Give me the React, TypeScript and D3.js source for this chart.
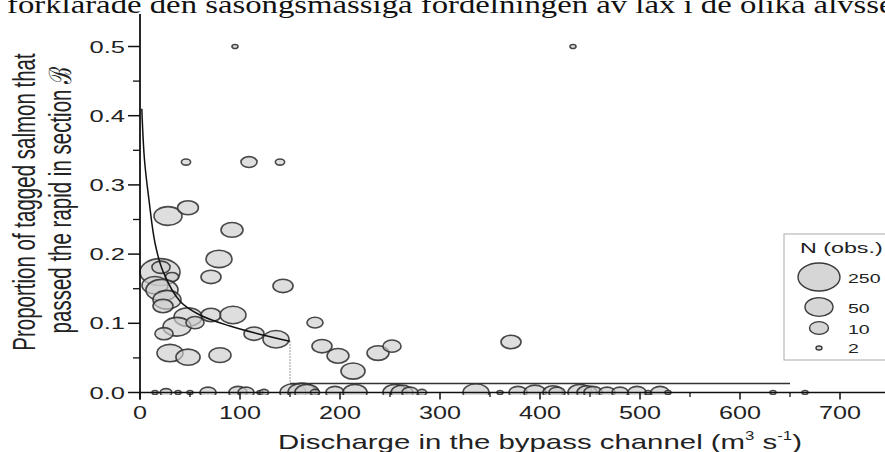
import React from "react";
import * as d3 from "d3";

const W = 885;
const H = 452;

const xTicks = [0, 100, 200, 300, 400, 500, 600, 700];
const xMinorTicks = [50, 150, 250, 350, 450, 550, 650];
const yTicks = [0, 0.1, 0.2, 0.3, 0.4, 0.5];
const yMinorTicks = [0.05, 0.15, 0.25, 0.35, 0.45];
const yTickLabels = ["0.0", "0.1", "0.2", "0.3", "0.4", "0.5"];

// positive proportions: discharge, proportion, N
const posX = [95, 433, 46, 109, 140, 28, 48, 92, 79, 20, 21, 32, 71, 15, 22, 27, 23, 143, 48, 37, 55, 71, 93, 24, 114, 136, 175, 182, 30, 48, 80, 198, 238, 252, 213, 371];
const posY = [0.5, 0.5, 0.333, 0.333, 0.333, 0.255, 0.267, 0.235, 0.193, 0.174, 0.181, 0.167, 0.167, 0.155, 0.148, 0.134, 0.125, 0.154, 0.109, 0.095, 0.101, 0.112, 0.112, 0.085, 0.085, 0.077, 0.101, 0.067, 0.057, 0.051, 0.054, 0.053, 0.057, 0.067, 0.031, 0.073];
const posN = [2, 2, 3, 7, 3, 50, 14, 17, 35, 200, 9, 5, 12, 35, 80, 50, 12, 12, 50, 50, 9, 12, 35, 9, 12, 35, 7, 12, 35, 25, 17, 17, 17, 9, 25, 12];

// zero proportions: discharge, N
const zeroX = [15, 26, 38, 50, 68, 98, 106, 120, 124, 153, 162, 167, 175, 195, 215, 255, 262, 270, 282, 336, 360, 378, 395, 413, 417, 440, 447, 453, 467, 480, 497, 508, 520, 528, 633, 665];
const zeroN = [2, 4, 2, 2, 7, 9, 7, 2, 3, 35, 50, 25, 3, 9, 25, 25, 17, 7, 3, 35, 2, 9, 17, 12, 7, 25, 12, 9, 7, 7, 9, 2, 9, 2, 2, 2];

// fitted curve
const curveX = [1.8, 4.5, 9, 15, 23, 40, 60, 90, 123, 150];
const curveY = [0.41, 0.336, 0.278, 0.216, 0.175, 0.132, 0.112, 0.096, 0.083, 0.074];
const stepX = 150;
const tailX = [150, 650];
const tailY = 0.013;

const legendN = [250, 50, 10, 2];
const legendLabels = ["250", "50", "10", "2"];

const SANS = "'Liberation Sans', Arial, sans-serif";

function SText(props: any) {
  const { x, y, sx = 1, size, anchor = "start", rotate, family = SANS, fill = "#222", children } = props;
  const tr = `translate(${x},${y}) scale(${sx},1)${rotate ? ` rotate(${rotate})` : ""}`;
  return (
    <text transform={tr} fontSize={size} textAnchor={anchor} fontFamily={family} fill={fill}>
      {children}
    </text>
  );
}

export default function App() {
  const x = d3.scaleLinear().domain([0, 745]).range([140, 885]);
  const y = d3.scaleLinear().domain([0, 0.5]).range([392.5, 46.5]);
  const rx = d3.scaleLog().domain([2, 10, 50, 250]).range([3, 9.5, 14, 21]);
  const ASP = 0.67;
  const y0 = y(0);

  const line = d3
    .line<number>()
    .x((_, i) => x(curveX[i]))
    .y((d) => y(d))
    .curve(d3.curveCatmullRom);

  const bubbleFill = "#cdcdcd";
  const bubbleStroke = "#2a2a2a";

  return (
    <svg width={W} height={H} style={{ position: "absolute", left: 0, top: 0, background: "#fff" }}>
      <defs>
        <clipPath id="zeroClip">
          <rect x={0} y={0} width={W} height={y0 + 2.5} />
        </clipPath>
      </defs>

      {/* cropped document text at top */}
      <SText x={7} y={13} sx={1.26} size={26} family="'Liberation Serif', 'Times New Roman', serif" fill="#111">
        förklarade den säsongsmässiga fördelningen av lax i de olika älvssek
      </SText>

      {/* zero bubbles */}
      <g clipPath="url(#zeroClip)">
        {zeroX.map((d, i) => (
          <ellipse
            key={"z" + i}
            cx={x(d)}
            cy={y0}
            rx={rx(zeroN[i])}
            ry={rx(zeroN[i]) * ASP}
            fill={bubbleFill}
            fillOpacity={0.7}
            stroke={bubbleStroke}
            strokeOpacity={0.85}
            strokeWidth={1.6}
          />
        ))}
      </g>

      {/* positive bubbles */}
      {posX.map((d, i) => (
        <ellipse
          key={"p" + i}
          cx={x(d)}
          cy={y(posY[i])}
          rx={rx(posN[i])}
          ry={rx(posN[i]) * ASP}
          fill={bubbleFill}
          fillOpacity={0.65}
          stroke={bubbleStroke}
          strokeOpacity={0.85}
          strokeWidth={1.6}
        />
      ))}

      {/* fitted curve */}
      <path d={line(curveY) || ""} fill="none" stroke="#111" strokeWidth={1.5} />
      <line x1={x(stepX)} x2={x(stepX)} y1={y(curveY[curveY.length - 1])} y2={y(tailY)} stroke="#777" strokeWidth={1} strokeDasharray="1.5,1.5" />
      <line x1={x(tailX[0])} x2={x(tailX[1])} y1={y(tailY)} y2={y(tailY)} stroke="#333" strokeWidth={1.3} />

      {/* axes */}
      <line x1={x(0)} x2={W} y1={y0} y2={y0} stroke="#111" strokeWidth={1.6} />
      <line x1={x(0)} x2={x(0)} y1={14} y2={y0 + 7} stroke="#111" strokeWidth={1.8} />
      {xTicks.map((t) => (
        <g key={"xt" + t}>
          <line x1={x(t)} x2={x(t)} y1={y0} y2={y0 + 7} stroke="#111" strokeWidth={1.5} />
          <SText x={x(t)} y={419} sx={1.4} size={18} anchor="middle">
            {String(t)}
          </SText>
        </g>
      ))}
      {xMinorTicks.map((t) => (
        <line key={"xm" + t} x1={x(t)} x2={x(t)} y1={y0} y2={y0 + 4.5} stroke="#111" strokeWidth={1.3} />
      ))}
      {yTicks.map((t, i) => (
        <g key={"yt" + t}>
          <line x1={128} x2={x(0)} y1={y(t)} y2={y(t)} stroke="#111" strokeWidth={1.5} />
          <SText x={125} y={y(t) + 6} sx={1.5} size={17} anchor="end">
            {yTickLabels[i]}
          </SText>
        </g>
      ))}
      {yMinorTicks.map((t) => (
        <line key={"ym" + t} x1={133} x2={x(0)} y1={y(t)} y2={y(t)} stroke="#111" strokeWidth={1.3} />
      ))}

      {/* axis titles */}
      <SText x={35} y={202} sx={1.5} size={20.5} anchor="middle" rotate={-90}>
        Proportion of tagged salmon that
      </SText>
      <SText x={71} y={200} sx={1.5} size={20.5} anchor="middle" rotate={-90}>
        passed the rapid in section ℬ
      </SText>
      <SText x={540} y={449} sx={1.4} size={21} anchor="middle">
        Discharge in the bypass channel (m<tspan fontSize={12} dy={-9}>3</tspan>
        <tspan dy={9}> s</tspan>
        <tspan fontSize={12} dy={-9}>-1</tspan>
        <tspan dy={9}>)</tspan>
      </SText>

      {/* legend */}
      <rect x={784} y={234} width={W - 784 + 10} height={126} fill="#fff" stroke="#aaa" strokeWidth={1} />
      <SText x={800} y={253} sx={1.5} size={15.5}>
        N (obs.)
      </SText>
      {legendN.map((n, i) => {
        const cys = [277, 307, 328, 348];
        const bys = [283, 313, 334, 353];
        return (
          <g key={"lg" + n}>
            <ellipse cx={819} cy={cys[i]} rx={rx(n)} ry={rx(n) * ASP} fill="#d6d6d6" stroke="#3a3a3a" strokeWidth={1.4} />
            <SText x={848} y={bys[i]} sx={1.5} size={13}>
              {legendLabels[i]}
            </SText>
          </g>
        );
      })}
    </svg>
  );
}
